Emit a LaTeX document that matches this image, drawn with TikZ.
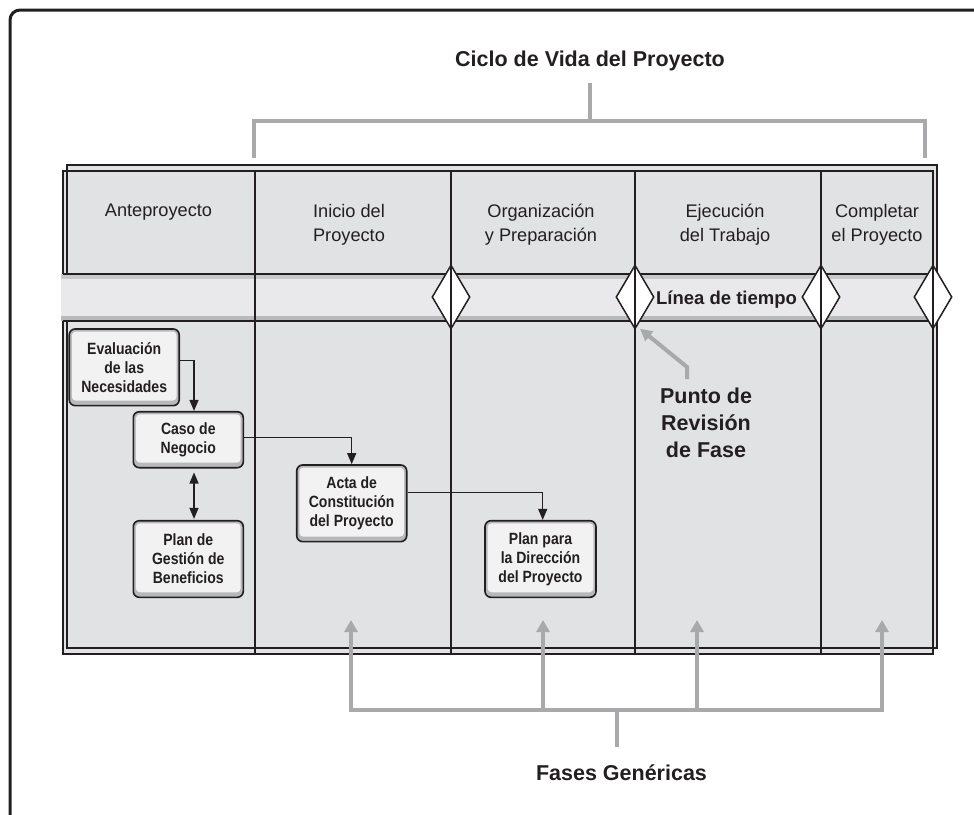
\documentclass[tikz,border=0pt]{standalone}
\usepackage{fontspec}
\setmainfont{Liberation Sans}
\newfontfamily\boxfam[FakeStretch=0.86]{Liberation Sans}
\usetikzlibrary{arrows.meta,shapes.geometric}
\definecolor{ink}{HTML}{231F20}
\definecolor{tblgray}{HTML}{E1E2E4}
\definecolor{bandgray}{HTML}{E9E9EB}
\definecolor{bandshade}{HTML}{B9BABC}
\definecolor{bevel}{HTML}{B7B8BA}
\definecolor{brk}{HTML}{A8A9AB}
\newcommand\boxfnt{\boxfam\bfseries\fontsize{16.3pt}{19pt}\selectfont}
\newcommand\headfnt{\fontsize{18.2pt}{24pt}\selectfont}
\newcommand\bigfnt{\bfseries\fontsize{21.5pt}{26.6pt}\selectfont}
\tikzset{
  procbox/.style={draw=ink, line width=1.6pt, rounded corners=6pt, fill=bevel,
    minimum width=110pt, inner sep=0pt, align=center, text=ink, font=\boxfnt,
    path picture={\fill[bandgray!60!white, rounded corners=4pt]
      ([xshift=2.6pt,yshift=5pt]path picture bounding box.south west) rectangle
      ([xshift=-2.6pt,yshift=-2.6pt]path picture bounding box.north east);}},
  headtxt/.style={align=center, text=ink, font=\headfnt, inner sep=0pt},
  bigtxt/.style={align=center, text=ink, font=\bigfnt, inner sep=0pt},
  gate/.style={diamond, draw=ink, fill=white, line width=1.5pt, minimum width=38pt,
    minimum height=64pt, inner sep=0pt},
  gbr/.style={draw=brk, line width=4.5pt},
  garrow/.style={gbr, -{Triangle[length=12pt,width=13pt]}},
  karrow/.style={draw=ink, line width=1.3pt, -{Triangle[length=11pt,width=9pt]}},
  kdarrow/.style={draw=ink, line width=1.3pt, {Triangle[length=11pt,width=9pt]}-{Triangle[length=11pt,width=9pt]}},
  tline/.style={draw=ink, line width=1.6pt},
  divline/.style={draw=ink, line width=1.8pt}
}
\begin{document}
\begin{tikzpicture}[x=1pt,y=-1pt]
\useasboundingbox (0,0) rectangle (974,814);
\fill[white] (0,0) rectangle (974,814);
% outer frame
\draw[ink, line width=3pt, rounded corners=10pt] (10,818) -- (10,10) -- (978,10);

% title and top bracket
\node[bigtxt, anchor=base] (title) at (590,66.7) {Ciclo de Vida del Proyecto};
\coordinate (tl) at (254,158);
\coordinate (tlc) at (254,121);
\coordinate (trc) at (925,121);
\coordinate (tr) at (925,158);
\coordinate (ts) at (590,83);
\coordinate (tsb) at (590,121);
\draw[gbr] (tl) -- (tlc) -- (trc) -- (tr);
\draw[gbr] (ts) -- (tsb);

% table
\fill[tblgray] (67,165) rectangle (937,648);
\fill[tblgray] (63,171) rectangle (933,654);
\draw[tline] (67,165) rectangle (937,648);
\draw[tline] (63,171) rectangle (933,654);
% timeline band
\fill[bandgray] (60.5,274) rectangle (933,321);
\fill[bandshade] (60.5,315.5) rectangle (933,321);
\fill[bandshade!70!bandgray] (60.5,274) rectangle (933,278.5);
\draw[tline, line width=1.8pt] (63,274) -- (933,274);
\draw[tline, line width=1.8pt] (63,321) -- (933,321);
\draw[tline] (937,274) -- (937,321);

% gates
\node[gate] (d1) at (451,297) {};
\node[gate] (d2) at (635,297) {};
\node[gate] (d3) at (821,297) {};
\node[gate] (d4) at (933,297) {};
% dividers
\draw[divline] (255,171) -- (255,654);
\draw[divline] (451,171) -- (451,654);
\draw[divline] (635,171) -- (635,654);
\draw[divline] (821,171) -- (821,654);
\draw[tline] (d4.north) -- (d4.south);

\node[text=ink, font=\bfseries\fontsize{18.5pt}{22pt}\selectfont, inner sep=0pt, anchor=base] (tl1) at (726.5,304) {Línea de tiempo};

% headers
\node[headtxt, anchor=base] (h1) at (158.5,216.7) {Anteproyecto};
\node[headtxt] (h2) at (349,224.3) {Inicio del\\Proyecto};
\node[headtxt] (h3) at (541,224.3) {Organización\\y Preparación};
\node[headtxt] (h4) at (725,224.3) {Ejecución\\del Trabajo};
\node[headtxt] (h5) at (877,224.3) {Completar\\el Proyecto};

% process boxes
\node[procbox, minimum height=76.7pt] (eval) at (124.2,367.3) {Evaluación\\de las\\Necesidades};
\node[procbox, minimum height=56pt] (caso) at (188.3,439.7) {Caso de\\Negocio};
\node[procbox, minimum height=76.6pt] (gest) at (188.3,559) {Plan de\\Gestión de\\Beneficios};
\node[procbox, minimum height=76.7pt] (acta) at (351.7,503.3) {Acta de\\Constitución\\del Proyecto};
\node[procbox, minimum height=76.6pt, minimum width=111pt] (plan) at (540.5,559) {Plan para\\la Dirección\\del Proyecto};

\draw[karrow] ([yshift=7pt]eval.east) -| ([xshift=5.7pt]caso.north);
\draw[kdarrow] ([xshift=5.7pt,yshift=-4pt]caso.south) -- ([xshift=5.7pt,yshift=1pt]gest.north);
\draw[karrow] ([yshift=2.4pt]caso.east) -| (acta.north);
\draw[karrow] ([yshift=11pt]acta.east) -| ([xshift=2.2pt]plan.north);

% phase gate label
\node[bigtxt] (punto) at (706,422.9) {Punto de\\Revisión\\de Fase};
\coordinate (pst) at (687,379);
\coordinate (pbend) at (687,367);
\draw[gbr, line width=4pt, -{Triangle[length=12pt,width=12pt]}] (pst) -- (pbend) -- ([xshift=5pt,yshift=1pt]d2.south);

% generic phases bracket
\coordinate (fa1) at (351,620);
\coordinate (fa2) at (543,620);
\coordinate (fa3) at (697,620);
\coordinate (fa4) at (882,620);
\coordinate (fb1) at (351,710);
\coordinate (fb2) at (543,710);
\coordinate (fb3) at (697,710);
\coordinate (fb4) at (882,710);
\coordinate (fs) at (617,710);
\coordinate (fse) at (617,747);
\draw[gbr, {Triangle[length=12pt,width=13pt]}-{Triangle[length=12pt,width=13pt]}] (fa1) -- (fb1) -- (fb4) -- (fa4);
\draw[garrow] (fb2) -- (fa2);
\draw[garrow] (fb3) -- (fa3);
\draw[gbr] (fs) -- (fse);
\node[bigtxt, anchor=base] (fases) at (621.5,780) {Fases Genéricas};
\end{tikzpicture}
\end{document}
